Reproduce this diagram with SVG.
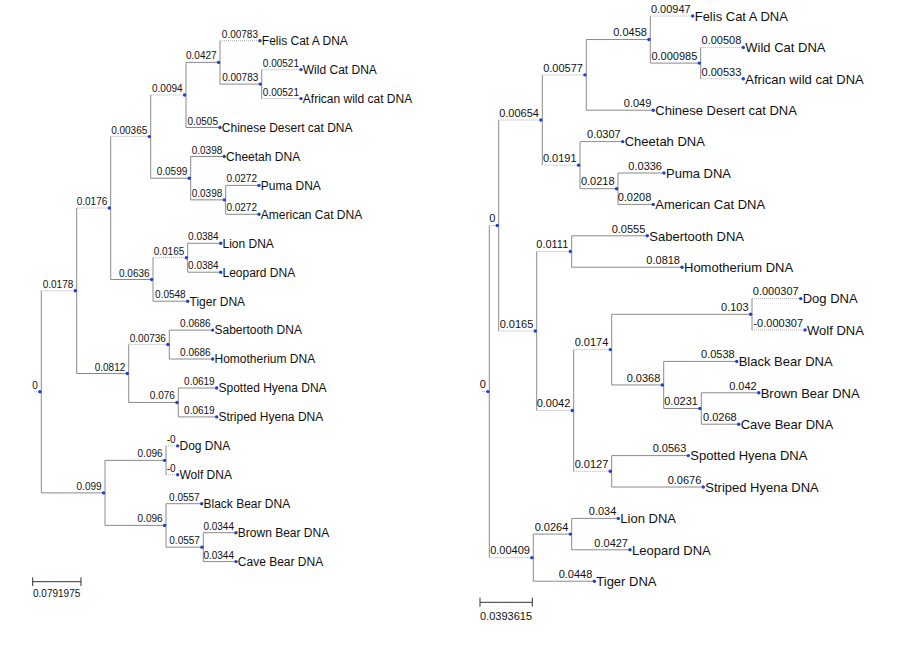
<svg xmlns="http://www.w3.org/2000/svg" width="900" height="650" viewBox="0 0 900 650">
<style>
.s{stroke:#8a8a8a;stroke-width:1;fill:none}
.d{stroke:#b0b0b0;stroke-width:1;stroke-dasharray:1 1;fill:none}
.sc{stroke:#333;stroke-width:1;fill:none}
.dot{fill:#1f3fd1}
text{font-family:"Liberation Sans",Arial,sans-serif;fill:#111}
.bl{font-size:10px;text-anchor:end}
.br{font-size:11px;text-anchor:end}
.ll{font-size:12px}
.lr{font-size:13px}
.sl{font-size:10px}
.sr{font-size:11px}
</style>
<rect width="900" height="650" fill="#fff"/>
<g id="connectors">
<!-- left verticals -->
<path class="s" d="M41.3 290.75V492.9M76.7 208V373.5M110.7 136.6V279.5M150.7 95V178.2M186 62.4V127.5M220 40.7V84.1M261.7 69.6V98.6M190.7 156.5V199.85M225.7 185.4V214.3M153 257.75V301.2M187.7 243.3V272.2M128.7 344.55V402.45M169.3 330.1V359M178.3 388V416.9M105 460.35V525.4M166 445.9V474.8M166 503.7V547.15M203.3 532.7V561.6"/>
<!-- left horizontals -->
<path class="d" d="M34 391.8H41.3M41.3 290.75H76.7M76.7 208H110.7M110.7 136.6H150.7M150.7 95H186M220 40.7H260M261.7 69.6H301M261.7 98.6H301M153 257.75H187.7M128.7 344.55H169.3M166 445.9H177.7M166 474.8H177.7"/>
<path class="s" d="M41.3 492.9H105M76.7 373.5H128.7M110.7 279.5H153M150.7 178.2H190.7M186 62.4H220M186 127.5H220M220 84.1H261.7M190.7 156.5H224.3M190.7 199.85H225.7M225.7 185.4H259M225.7 214.3H259M153 301.2H187.7M187.7 243.3H220.7M187.7 272.2H220.7M128.7 402.45H178.3M169.3 330.1H212.7M169.3 359H212.7M178.3 388H216.7M178.3 416.9H216.7M105 460.35H166M105 525.4H166M166 503.7H201.7M166 547.15H203.3M203.3 532.7H236M203.3 561.6H236"/>
<!-- right verticals -->
<path class="s" d="M489.3 225.5V557.65M498.7 120V331M542.3 74.9V165.15M586.3 39.55V110.2M650.3 16V63.1M700.7 47.4V78.8M580 141.6V188.7M618 173V204.4M536.7 251.5V410.45M571.7 235.8V267.2M573.7 349.6V471.3M611.7 314.3V384.95M752 298.6V330M663.7 361.4V408.5M701.3 392.8V424.2M611.7 455.6V487M533.3 534.1V581.2M571.7 518.4V549.8"/>
<!-- right horizontals -->
<path class="d" d="M482 391.6H489.3M489.3 225.5H498.7M489.3 557.65H533.3M498.7 120H542.3M498.7 331H536.7M542.3 74.9H586.3M542.3 165.15H580M650.3 16H692.7M700.7 47.4H743.3M700.7 78.8H743.3M536.7 251.5H571.7M536.7 410.45H573.7M573.7 349.6H611.7M573.7 471.3H611.7M752 298.6H800.7M752 330H805"/>
<path class="s" d="M586.3 39.55H650.3M586.3 110.2H653.3M650.3 63.1H700.7M580 141.6H622.7M580 188.7H618M618 173H664M618 204.4H653.3M571.7 235.8H647.3M571.7 267.2H682M611.7 314.3H752M611.7 384.95H663.7M663.7 361.4H736.7M663.7 408.5H701.3M701.3 392.8H758.7M701.3 424.2H738.7M611.7 455.6H688.3M611.7 487H703.3M533.3 534.1H571.7M533.3 581.2H594.3M571.7 518.4H618.3M571.7 549.8H630"/>
</g>
<!-- LEFT TREE -->
<g id="L-root"><circle class="dot" cx="39.9" cy="391.8" r="1.7"/><text class="bl" x="37.9" y="388.8">0</text></g>
<g id="L-n0178"><circle class="dot" cx="75.3" cy="290.75" r="1.7"/><text class="bl" x="73.3" y="287.75">0.0178</text></g>
<g id="L-n0176"><circle class="dot" cx="109.3" cy="208" r="1.7"/><text class="bl" x="107.3" y="205">0.0176</text></g>
<g id="L-n00365"><circle class="dot" cx="149.3" cy="136.6" r="1.7"/><text class="bl" x="147.3" y="133.6">0.00365</text></g>
<g id="L-n0094"><circle class="dot" cx="184.6" cy="95" r="1.7"/><text class="bl" x="182.6" y="92">0.0094</text></g>
<g id="L-n0427"><circle class="dot" cx="218.6" cy="62.4" r="1.7"/><text class="bl" x="216.6" y="59.4">0.0427</text></g>
<g id="L-n00783"><circle class="dot" cx="260.3" cy="84.1" r="1.7"/><text class="bl" x="258.3" y="81.1">0.00783</text></g>
<g id="L-felis"><circle class="dot" cx="260" cy="40.7" r="1.7"/><text class="bl" x="258" y="37.7">0.00783</text><text class="ll" x="261.8" y="45">Felis Cat A DNA</text></g>
<g id="L-wild"><circle class="dot" cx="301" cy="69.6" r="1.7"/><text class="bl" x="299" y="66.6">0.00521</text><text class="ll" x="302.8" y="73.9">Wild Cat DNA</text></g>
<g id="L-african"><circle class="dot" cx="301" cy="98.6" r="1.7"/><text class="bl" x="299" y="95.6">0.00521</text><text class="ll" x="302.8" y="102.9">African wild cat DNA</text></g>
<g id="L-chinese"><circle class="dot" cx="220" cy="127.5" r="1.7"/><text class="bl" x="218" y="124.5">0.0505</text><text class="ll" x="221.8" y="131.8">Chinese Desert cat DNA</text></g>
<g id="L-n0599"><circle class="dot" cx="189.3" cy="178.2" r="1.7"/><text class="bl" x="187.3" y="175.2">0.0599</text></g>
<g id="L-cheetah"><circle class="dot" cx="224.3" cy="156.5" r="1.7"/><text class="bl" x="222.3" y="153.5">0.0398</text><text class="ll" x="226.1" y="160.8">Cheetah DNA</text></g>
<g id="L-n0398"><circle class="dot" cx="224.3" cy="199.85" r="1.7"/><text class="bl" x="222.3" y="196.85">0.0398</text></g>
<g id="L-puma"><circle class="dot" cx="259" cy="185.4" r="1.7"/><text class="bl" x="257" y="182.4">0.0272</text><text class="ll" x="260.8" y="189.7">Puma DNA</text></g>
<g id="L-american"><circle class="dot" cx="259" cy="214.3" r="1.7"/><text class="bl" x="257" y="211.3">0.0272</text><text class="ll" x="260.8" y="218.6">American Cat DNA</text></g>
<g id="L-n0636"><circle class="dot" cx="151.6" cy="279.5" r="1.7"/><text class="bl" x="149.6" y="276.5">0.0636</text></g>
<g id="L-n0165"><circle class="dot" cx="186.3" cy="257.75" r="1.7"/><text class="bl" x="184.3" y="254.75">0.0165</text></g>
<g id="L-lion"><circle class="dot" cx="220.7" cy="243.3" r="1.7"/><text class="bl" x="218.7" y="240.3">0.0384</text><text class="ll" x="222.5" y="247.6">Lion DNA</text></g>
<g id="L-leopard"><circle class="dot" cx="220.7" cy="272.2" r="1.7"/><text class="bl" x="218.7" y="269.2">0.0384</text><text class="ll" x="222.5" y="276.5">Leopard DNA</text></g>
<g id="L-tiger"><circle class="dot" cx="187.7" cy="301.2" r="1.7"/><text class="bl" x="185.7" y="298.2">0.0548</text><text class="ll" x="189.5" y="305.5">Tiger DNA</text></g>
<g id="L-n0812"><circle class="dot" cx="127.3" cy="373.5" r="1.7"/><text class="bl" x="125.3" y="370.5">0.0812</text></g>
<g id="L-n00736"><circle class="dot" cx="167.9" cy="344.55" r="1.7"/><text class="bl" x="165.9" y="341.55">0.00736</text></g>
<g id="L-sabertooth"><circle class="dot" cx="212.7" cy="330.1" r="1.7"/><text class="bl" x="210.7" y="327.1">0.0686</text><text class="ll" x="214.5" y="334.4">Sabertooth DNA</text></g>
<g id="L-homotherium"><circle class="dot" cx="212.7" cy="359" r="1.7"/><text class="bl" x="210.7" y="356">0.0686</text><text class="ll" x="214.5" y="363.3">Homotherium DNA</text></g>
<g id="L-n076"><circle class="dot" cx="176.9" cy="402.45" r="1.7"/><text class="bl" x="174.9" y="399.45">0.076</text></g>
<g id="L-spotted"><circle class="dot" cx="216.7" cy="388" r="1.7"/><text class="bl" x="214.7" y="385">0.0619</text><text class="ll" x="218.5" y="392.3">Spotted Hyena DNA</text></g>
<g id="L-striped"><circle class="dot" cx="216.7" cy="416.9" r="1.7"/><text class="bl" x="214.7" y="413.9">0.0619</text><text class="ll" x="218.5" y="421.2">Striped Hyena DNA</text></g>
<g id="L-n099"><circle class="dot" cx="103.6" cy="492.9" r="1.7"/><text class="bl" x="101.6" y="489.9">0.099</text></g>
<g id="L-n096a"><circle class="dot" cx="164.6" cy="460.35" r="1.7"/><text class="bl" x="162.6" y="457.35">0.096</text></g>
<g id="L-dog"><circle class="dot" cx="177.7" cy="445.9" r="1.7"/><text class="bl" x="175.7" y="442.9">-0</text><text class="ll" x="179.5" y="450.2">Dog DNA</text></g>
<g id="L-wolf"><circle class="dot" cx="177.7" cy="474.8" r="1.7"/><text class="bl" x="175.7" y="471.8">-0</text><text class="ll" x="179.5" y="479.1">Wolf DNA</text></g>
<g id="L-n096b"><circle class="dot" cx="164.6" cy="525.4" r="1.7"/><text class="bl" x="162.6" y="522.4">0.096</text></g>
<g id="L-black"><circle class="dot" cx="201.7" cy="503.7" r="1.7"/><text class="bl" x="199.7" y="500.7">0.0557</text><text class="ll" x="203.5" y="508">Black Bear DNA</text></g>
<g id="L-n0557"><circle class="dot" cx="201.9" cy="547.15" r="1.7"/><text class="bl" x="199.9" y="544.15">0.0557</text></g>
<g id="L-brown"><circle class="dot" cx="236" cy="532.7" r="1.7"/><text class="bl" x="234" y="529.7">0.0344</text><text class="ll" x="237.8" y="537">Brown Bear DNA</text></g>
<g id="L-cave"><circle class="dot" cx="236" cy="561.6" r="1.7"/><text class="bl" x="234" y="558.6">0.0344</text><text class="ll" x="237.8" y="565.9">Cave Bear DNA</text></g>
<g id="L-scale"><path class="sc" d="M32.7 581.7H81M32.7 577.3V586M81 577.3V586"/><text class="sl" x="33" y="596.5">0.0791975</text></g>
<!-- RIGHT TREE -->
<g id="R-root"><circle class="dot" cx="487.9" cy="391.6" r="1.7"/><text class="br" x="485.9" y="388.3">0</text></g>
<g id="R-n0"><circle class="dot" cx="497.3" cy="225.5" r="1.7"/><text class="br" x="495.3" y="222.2">0</text></g>
<g id="R-n00654"><circle class="dot" cx="540.9" cy="120" r="1.7"/><text class="br" x="538.9" y="116.7">0.00654</text></g>
<g id="R-n00577"><circle class="dot" cx="584.9" cy="74.9" r="1.7"/><text class="br" x="582.9" y="71.6">0.00577</text></g>
<g id="R-n0458"><circle class="dot" cx="648.9" cy="39.55" r="1.7"/><text class="br" x="646.9" y="36.25">0.0458</text></g>
<g id="R-felis"><circle class="dot" cx="692.7" cy="16" r="1.7"/><text class="br" x="690.7" y="12.7">0.00947</text><text class="lr" x="694.7" y="20.8">Felis Cat A DNA</text></g>
<g id="R-n000985"><circle class="dot" cx="699.3" cy="63.1" r="1.7"/><text class="br" x="697.3" y="59.8">0.000985</text></g>
<g id="R-wild"><circle class="dot" cx="743.3" cy="47.4" r="1.7"/><text class="br" x="741.3" y="44.1">0.00508</text><text class="lr" x="745.3" y="52.2">Wild Cat DNA</text></g>
<g id="R-african"><circle class="dot" cx="743.3" cy="78.8" r="1.7"/><text class="br" x="741.3" y="75.5">0.00533</text><text class="lr" x="745.3" y="83.6">African wild cat DNA</text></g>
<g id="R-chinese"><circle class="dot" cx="653.3" cy="110.2" r="1.7"/><text class="br" x="651.3" y="106.9">0.049</text><text class="lr" x="655.3" y="115">Chinese Desert cat DNA</text></g>
<g id="R-n0191"><circle class="dot" cx="578.6" cy="165.15" r="1.7"/><text class="br" x="576.6" y="161.85">0.0191</text></g>
<g id="R-cheetah"><circle class="dot" cx="622.7" cy="141.6" r="1.7"/><text class="br" x="620.7" y="138.3">0.0307</text><text class="lr" x="624.7" y="146.4">Cheetah DNA</text></g>
<g id="R-n0218"><circle class="dot" cx="616.6" cy="188.7" r="1.7"/><text class="br" x="614.6" y="185.4">0.0218</text></g>
<g id="R-puma"><circle class="dot" cx="664" cy="173" r="1.7"/><text class="br" x="662" y="169.7">0.0336</text><text class="lr" x="666" y="177.8">Puma DNA</text></g>
<g id="R-american"><circle class="dot" cx="653.3" cy="204.4" r="1.7"/><text class="br" x="651.3" y="201.1">0.0208</text><text class="lr" x="655.3" y="209.2">American Cat DNA</text></g>
<g id="R-n0165"><circle class="dot" cx="535.3" cy="331" r="1.7"/><text class="br" x="533.3" y="327.7">0.0165</text></g>
<g id="R-n0111"><circle class="dot" cx="570.3" cy="251.5" r="1.7"/><text class="br" x="568.3" y="248.2">0.0111</text></g>
<g id="R-sabertooth"><circle class="dot" cx="647.3" cy="235.8" r="1.7"/><text class="br" x="645.3" y="232.5">0.0555</text><text class="lr" x="649.3" y="240.6">Sabertooth DNA</text></g>
<g id="R-homotherium"><circle class="dot" cx="682" cy="267.2" r="1.7"/><text class="br" x="680" y="263.9">0.0818</text><text class="lr" x="684" y="272">Homotherium DNA</text></g>
<g id="R-n0042"><circle class="dot" cx="572.3" cy="410.45" r="1.7"/><text class="br" x="570.3" y="407.15">0.0042</text></g>
<g id="R-n0174"><circle class="dot" cx="610.3" cy="349.6" r="1.7"/><text class="br" x="608.3" y="346.3">0.0174</text></g>
<g id="R-n0103"><circle class="dot" cx="750.6" cy="314.3" r="1.7"/><text class="br" x="748.6" y="311">0.103</text></g>
<g id="R-dog"><circle class="dot" cx="800.7" cy="298.6" r="1.7"/><text class="br" x="798.7" y="295.3">0.000307</text><text class="lr" x="802.7" y="303.4">Dog DNA</text></g>
<g id="R-wolf"><circle class="dot" cx="805" cy="330" r="1.7"/><text class="br" x="803" y="326.7">-0.000307</text><text class="lr" x="807" y="334.8">Wolf DNA</text></g>
<g id="R-n0368"><circle class="dot" cx="662.3" cy="384.95" r="1.7"/><text class="br" x="660.3" y="381.65">0.0368</text></g>
<g id="R-black"><circle class="dot" cx="736.7" cy="361.4" r="1.7"/><text class="br" x="734.7" y="358.1">0.0538</text><text class="lr" x="738.7" y="366.2">Black Bear DNA</text></g>
<g id="R-n0231"><circle class="dot" cx="699.9" cy="408.5" r="1.7"/><text class="br" x="697.9" y="405.2">0.0231</text></g>
<g id="R-brown"><circle class="dot" cx="758.7" cy="392.8" r="1.7"/><text class="br" x="756.7" y="389.5">0.042</text><text class="lr" x="760.7" y="397.6">Brown Bear DNA</text></g>
<g id="R-cave"><circle class="dot" cx="738.7" cy="424.2" r="1.7"/><text class="br" x="736.7" y="420.9">0.0268</text><text class="lr" x="740.7" y="429">Cave Bear DNA</text></g>
<g id="R-n0127"><circle class="dot" cx="610.3" cy="471.3" r="1.7"/><text class="br" x="608.3" y="468">0.0127</text></g>
<g id="R-spotted"><circle class="dot" cx="688.3" cy="455.6" r="1.7"/><text class="br" x="686.3" y="452.3">0.0563</text><text class="lr" x="690.3" y="460.4">Spotted Hyena DNA</text></g>
<g id="R-striped"><circle class="dot" cx="703.3" cy="487" r="1.7"/><text class="br" x="701.3" y="483.7">0.0676</text><text class="lr" x="705.3" y="491.8">Striped Hyena DNA</text></g>
<g id="R-n00409"><circle class="dot" cx="531.9" cy="557.65" r="1.7"/><text class="br" x="529.9" y="554.35">0.00409</text></g>
<g id="R-n0264"><circle class="dot" cx="570.3" cy="534.1" r="1.7"/><text class="br" x="568.3" y="530.8">0.0264</text></g>
<g id="R-lion"><circle class="dot" cx="618.3" cy="518.4" r="1.7"/><text class="br" x="616.3" y="515.1">0.034</text><text class="lr" x="620.3" y="523.2">Lion DNA</text></g>
<g id="R-leopard"><circle class="dot" cx="630" cy="549.8" r="1.7"/><text class="br" x="628" y="546.5">0.0427</text><text class="lr" x="632" y="554.6">Leopard DNA</text></g>
<g id="R-tiger"><circle class="dot" cx="594.3" cy="581.2" r="1.7"/><text class="br" x="592.3" y="577.9">0.0448</text><text class="lr" x="596.3" y="586">Tiger DNA</text></g>
<g id="R-scale"><path class="sc" d="M480 602.3H532.3M480 597.7V606.7M532.3 597.7V606.7"/><text class="sr" x="480" y="619.7">0.0393615</text></g>
</svg>
